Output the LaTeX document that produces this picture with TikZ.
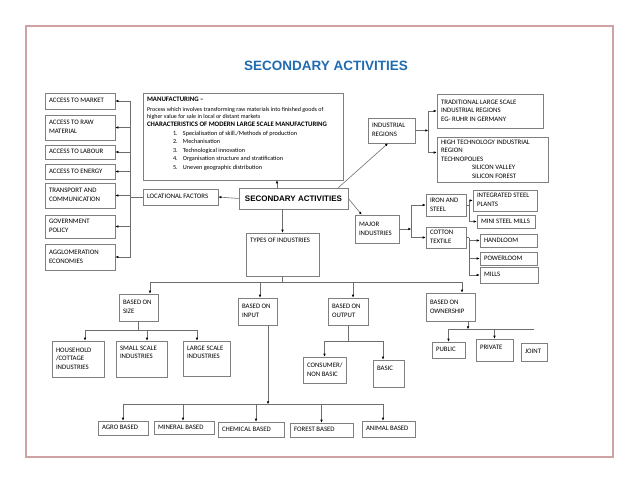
\documentclass[tikz,border=0pt]{standalone}
\usepackage{fontspec}
\setmainfont{Carlito}
\newfontfamily\headfont{Liberation Sans}
\usetikzlibrary{arrows.meta}
\definecolor{frameRose}{HTML}{CFA3A3}
\definecolor{boxGray}{HTML}{7F7F7F}
\definecolor{linkGray}{HTML}{6E6E6E}
\definecolor{titleBlue}{HTML}{1F6BB0}
\newcommand{\bxfont}{\fontsize{6.8}{8.6}\selectfont}
\newcommand{\smfont}{\fontsize{6}{7}\selectfont}
\newcommand{\itfont}{\fontsize{6.2}{8.5}\selectfont}
% box text: width, height, vertical position, lines
\newcommand{\bt}[4]{\parbox[c][#2pt][#3]{\dimexpr#1pt-8pt\relax}{\begin{tabular}{@{}l@{}}#4\end{tabular}}}

\begin{document}
\begin{tikzpicture}[x=1pt, y=-1pt,
    bx/.style={draw=boxGray, line width=0.6pt, inner xsep=4pt, inner ysep=0pt, font=\bxfont},
    link/.style={draw=linkGray, line width=0.6pt},
    linkArrow/.style={link, -{Latex[length=3pt, width=2.6pt, color=black]}}]
\useasboundingbox (0,0) rectangle (639,478);
\draw[frameRose, line width=1.5pt] (26,26) rectangle (613,457);

\node[font=\headfont\bfseries\fontsize{13.5}{16}\selectfont, text=titleBlue] (title) at (326,66) {SECONDARY ACTIVITIES};

% locational factors
\node[bx] (market) at (80,101) {\bt{70}{16}{c}{ACCESS TO MARKET}};
\node[bx] (raw) at (80,127.5) {\bt{70}{25}{c}{ACCESS TO RAW\\MATERIAL}};
\node[bx] (labour) at (80,152) {\bt{70}{14}{c}{ACCESS TO LABOUR}};
\node[bx] (energy) at (80,171.5) {\bt{70}{15}{c}{ACCESS TO ENERGY}};
\node[bx] (transport) at (80,195.5) {\bt{70}{25}{c}{TRANSPORT AND\\COMMUNICATION}};
\node[bx] (govt) at (80,226.5) {\bt{70}{23}{c}{GOVERNMENT\\POLICY}};
\node[bx] (agglo) at (80,257) {\bt{70}{26}{c}{AGGLOMERATION\\ECONOMIES}};
\node[bx] (locational) at (180.5,197) {\bt{75}{16}{c}{LOCATIONAL FACTORS}};

\node[bx, inner xsep=0pt, font=\headfont\bfseries\fontsize{8}{10}\selectfont] (secondary) at (293.5,198.5)
  {\parbox[c][21pt][c]{109pt}{\centering SECONDARY ACTIVITIES}};

\node[bx] (manufacturing) at (243,136.5) {\parbox[c][87pt][t]{192pt}{\raggedright\vspace*{4pt}
  {\bfseries MANUFACTURING –\par}\vspace{3.5pt}
  {\smfont Process which involves transforming raw materials into finished goods of\\
   higher value for sale in local or distant markets\par}\vspace{-0.8pt}
  {\bfseries CHARACTERISTICS OF MODERN LARGE SCALE MANUFACTURING\par}
  {\itfont\hspace*{26pt}\makebox[10pt][l]{1.}Specialisation of skill./Methods of production\\
   \hspace*{26pt}\makebox[10pt][l]{2.}Mechanisation\\
   \hspace*{26pt}\makebox[10pt][l]{3.}Technological innovation\\
   \hspace*{26pt}\makebox[10pt][l]{4.}Organisation structure and stratification\\
   \hspace*{26pt}\makebox[10pt][l]{5.}Uneven geographic distribution\par}}};

% regions and major industries
\node[bx] (regions) at (391.5,130.5) {\bt{47}{25}{c}{INDUSTRIAL\\REGIONS}};
\node[bx] (traditional) at (490,111) {\bt{106}{34}{c}{TRADITIONAL LARGE SCALE\\INDUSTRIAL REGIONS\\EG- RUHR IN GERMANY}};
\node[bx] (hightech) at (492.5,159.5) {\bt{111}{45}{c}{HIGH TECHNOLOGY INDUSTRIAL\\REGION\\TECHNOPOLIES\\
  \hspace*{31pt}SILICON VALLEY\\\hspace*{31pt}SILICON FOREST}};
\node[bx] (major) at (377,229) {\bt{44}{28}{c}{MAJOR\\INDUSTRIES}};
\node[bx] (iron) at (446,205) {\bt{40}{22}{c}{IRON AND\\STEEL}};
\node[bx] (cotton) at (446,237.5) {\bt{40}{21}{c}{COTTON\\TEXTILE}};
\node[bx] (integrated) at (505,200.5) {\bt{64}{21}{c}{INTEGRATED STEEL\\PLANTS}};
\node[bx] (ministeel) at (506,221.5) {\bt{58}{13}{c}{MINI STEEL MILLS}};
\node[bx] (handloom) at (508.5,240.5) {\bt{57}{13}{c}{HANDLOOM}};
\node[bx] (powerloom) at (508.5,258.5) {\bt{57}{13}{c}{POWERLOOM}};
\node[bx] (mills) at (509,275) {\bt{58}{16}{c}{MILLS}};

% types of industries
\node[bx] (types) at (282.5,254.5) {\bt{73}{43}{t}{\rule{0pt}{10pt}TYPES OF INDUSTRIES}};
\node[bx] (size) at (138.5,307.5) {\bt{39}{27}{c}{BASED ON\\SIZE}};
\node[bx] (input) at (257.5,311.5) {\bt{39}{27}{c}{BASED ON\\INPUT}};
\node[bx] (output) at (348,311.5) {\bt{40}{27}{c}{BASED ON\\OUTPUT}};
\node[bx] (ownership) at (450.5,307) {\bt{49}{28}{c}{BASED ON\\OWNERSHIP}};
\node[bx] (household) at (78,359) {\bt{52}{36}{c}{HOUSEHOLD\\/COTTAGE\\INDUSTRIES}};
\node[bx] (small) at (141.5,359) {\bt{51}{36}{t}{\rule{0pt}{9pt}SMALL SCALE\\INDUSTRIES}};
\node[bx] (large) at (206.5,358.5) {\bt{47}{35}{t}{\rule{0pt}{9pt}LARGE SCALE\\INDUSTRIES}};
\node[bx] (consumer) at (324.5,370) {\bt{43}{26}{c}{CONSUMER/\\NON BASIC}};
\node[bx] (basic) at (388.5,373.5) {\bt{31}{27}{t}{\rule{0pt}{10pt}BASIC}};
\node[bx] (public) at (448.5,350) {\bt{33}{16}{c}{PUBLIC}};
\node[bx] (private) at (494.5,350) {\bt{37}{22}{t}{\rule{0pt}{10pt}PRIVATE}};
\node[bx] (joint) at (534,352) {\bt{26}{18}{c}{JOINT}};
\node[bx] (agro) at (123,428) {\bt{50}{14}{c}{AGRO BASED}};
\node[bx] (mineral) at (184,427.5) {\bt{60}{13}{c}{MINERAL BASED}};
\node[bx] (chemical) at (251,429.5) {\bt{66}{15}{c}{CHEMICAL BASED}};
\node[bx] (forest) at (321.5,430) {\bt{63}{14}{c}{FOREST BASED}};
\node[bx] (animal) at (388.5,429) {\bt{53}{16}{c}{ANIMAL BASED}};

% connectors, left side
\draw[link] (locational.west) -- ++(-12,0) coordinate (hub);
\draw[link] (hub |- market.east) -- (hub |- agglo.east);
\foreach \nd in {market,raw,labour,energy,transport,govt,agglo}
  \draw[linkArrow] (hub |- \nd.east) -- (\nd.east);
\draw[linkArrow] (secondary.west) -- (locational.east);
\draw[linkArrow] ([xshift=-16.5]secondary.north) -- ([xshift=-16.5]secondary.north |- manufacturing.south);

% connectors, right side
\draw[linkArrow] ([xshift=-10]secondary.north east) -- ([xshift=-3.5]regions.south);
\draw[linkArrow] (secondary.east) -- ([xshift=7]major.north west);
\draw[linkArrow] (regions.east) -- ++(13,0) coordinate (regHub);
\draw[link] (regHub |- traditional.west) -- ([yshift=7]regHub |- hightech.west);
\draw[linkArrow] (regHub |- traditional.west) -- (traditional.west);
\draw[linkArrow] ([yshift=7]regHub |- hightech.west) -- ([yshift=7]hightech.west);
\draw[linkArrow] (major.east) -- ++(12,0) coordinate (majHub);
\draw[link] (majHub |- iron.west) -- (majHub |- cotton.west);
\foreach \nd in {iron,cotton}
  \draw[linkArrow] (majHub |- \nd.west) -- (\nd.west);
\draw[link] (iron.east) -- ++(3,0) coordinate (ironHub);
\draw[link] (ironHub |- integrated.west) -- (ironHub |- ministeel.west);
\foreach \nd in {integrated,ministeel}
  \draw[linkArrow] (ironHub |- \nd.west) -- (\nd.west);
\draw[link] (cotton.east) -- ++(3,0) coordinate (cotHub);
\draw[link] (cotHub) -- (cotHub |- mills.west);
\foreach \nd in {handloom,powerloom,mills}
  \draw[linkArrow] (cotHub |- \nd.west) -- (\nd.west);

% connectors, types tree
\draw[linkArrow] (secondary.south -| types.north) -- (types.north);
\draw[link] (types.south) -- ++(0,6) coordinate (typHub);
\draw[link] ([xshift=11.5]size.north |- typHub) -- ([xshift=11.5]ownership.north |- typHub);
\foreach \nd/\dx in {size/11.5,input/2.5,output/5,ownership/11.5}
  \draw[linkArrow] ([xshift=\dx]\nd.north |- typHub) -- ([xshift=\dx]\nd.north);
\draw[link] (size.south) -- ++(0,9) coordinate (sizeHub);
\draw[link] ([xshift=7]household.north |- sizeHub) -- ([xshift=-9.5]large.north |- sizeHub);
\foreach \nd/\dx in {household/7,small/5.5,large/-9.5}
  \draw[linkArrow] ([xshift=\dx]\nd.north |- sizeHub) -- ([xshift=\dx]\nd.north);
\draw[link] (output.south) -- ++(0,16) coordinate (outHub);
\draw[link] (consumer.north |- outHub) -- ([xshift=-5.5]basic.north |- outHub);
\foreach \nd/\dx in {consumer/0,basic/-5.5}
  \draw[linkArrow] ([xshift=\dx]\nd.north |- outHub) -- ([xshift=\dx]\nd.north);
\draw[linkArrow] ([xshift=17.5]ownership.south) -- ++(0,8) coordinate (ownHub);
\draw[link] (public.north |- ownHub) -- (joint.north |- ownHub);
\foreach \nd in {public,private}
  \draw[linkArrow] (\nd.north |- ownHub) -- (\nd.north);
\draw[linkArrow] ([xshift=10.5]input.south) -- ++(0,79) coordinate (inHub);
\draw[link] (agro.north |- inHub) -- ([xshift=-5.5]animal.north |- inHub);
\foreach \nd/\dx in {agro/0,mineral/-1,chemical/5,forest/0,animal/-5.5}
  \draw[linkArrow] ([xshift=\dx]\nd.north |- inHub) -- ([xshift=\dx]\nd.north);
\end{tikzpicture}
\end{document}
